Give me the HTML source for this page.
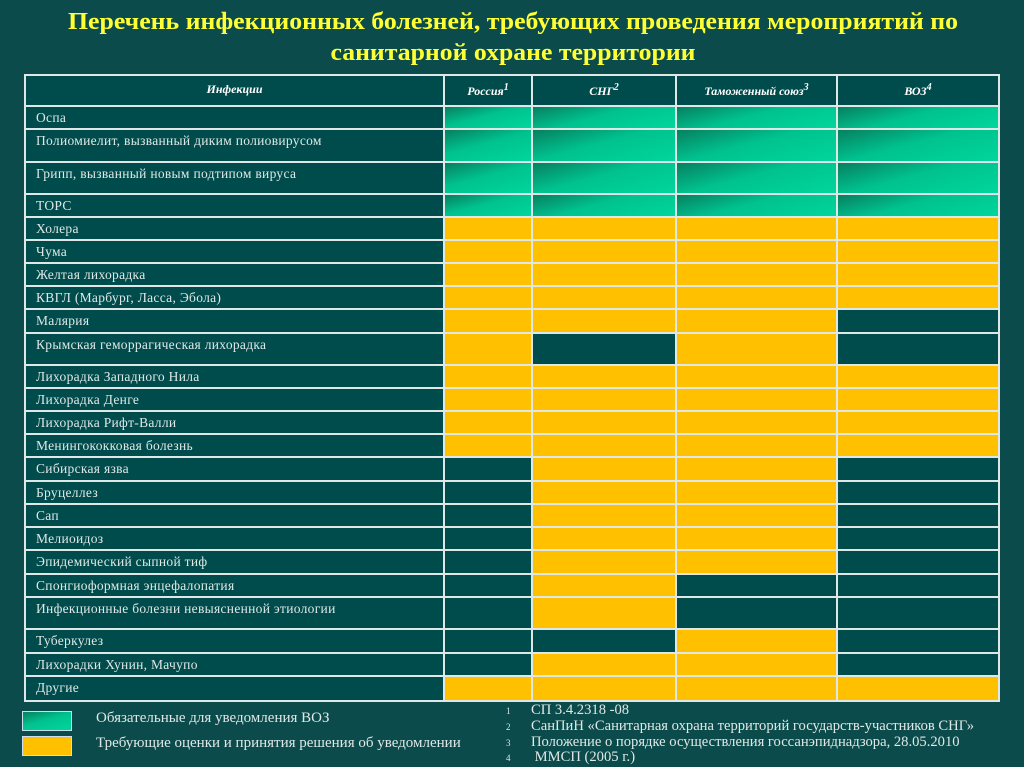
<!DOCTYPE html>
<html><head><meta charset="utf-8">
<style>
body{margin:0;width:1024px;height:767px;background:#0b4b4b;overflow:hidden;position:relative;font-family:"Liberation Serif","DejaVu Serif",serif}
.cell{position:absolute;box-sizing:border-box}
.lbl{color:#dfe8e6;font-size:13.5px;padding:3px 0 0 10px;letter-spacing:0.3px;white-space:nowrap}
.hd{color:#fff;font-style:italic;font-weight:bold;font-size:12px;text-align:center;padding-top:6px}
.g{background:linear-gradient(165deg,#07805f 0%,#00c28f 45%,#00d69c 100%)}
.y{background:#ffc000}
.d{background:#004b4c}
.leg{position:absolute;color:#dfe8e6;font-size:15px;white-space:nowrap}
.fn{position:absolute;color:#dfe8e6;font-size:14.6px;white-space:nowrap}
.fn span{display:inline-block;width:25px;font-size:9px}
</style></head><body>
<svg width="1024" height="75" style="position:absolute;left:0;top:0">
<text x="513" y="29" text-anchor="middle" textLength="890" lengthAdjust="spacingAndGlyphs" fill="#ffff33" font-family="Liberation Serif" font-weight="bold" font-size="24">Перечень инфекционных болезней, требующих проведения мероприятий по</text>
<text x="513" y="60" text-anchor="middle" textLength="365" lengthAdjust="spacingAndGlyphs" fill="#ffff33" font-family="Liberation Serif" font-weight="bold" font-size="24">санитарной охране территории</text>
</svg>
<div id="tbl" style="position:absolute;left:24px;top:74px;width:976px;height:628px;background:#dfe8e6"></div>

<div class="g" style="position:absolute;left:22px;top:711px;width:48px;height:18px;border:1px solid #cde"></div>
<div class="leg" style="left:96px;top:710px">Обязательные для уведомления ВОЗ</div>
<div class="y" style="position:absolute;left:22px;top:736px;width:48px;height:18px;border:1px solid #cde"></div>
<div class="leg" style="left:96px;top:735px">Требующие оценки и принятия решения об уведомлении</div>

<div class="fn" style="left:506px;top:702px"><span>1</span>СП 3.4.2318 -08</div>
<div class="fn" style="left:506px;top:718px"><span>2</span>СанПиН «Санитарная охрана территорий государств-участников СНГ»</div>
<div class="fn" style="left:506px;top:734px"><span>3</span>Положение о порядке осуществления госсанэпиднадзора, 28.05.2010</div>
<div class="fn" style="left:506px;top:749px"><span>4</span> ММСП (2005 г.)</div>

<script>
const headers = ["Инфекции","Россия<sup>1</sup>","СНГ<sup>2</sup>","Таможенный союз<sup>3</sup>","ВОЗ<sup>4</sup>"];
const infections = ["Оспа","Полиомиелит, вызванный диким  полиовирусом","Грипп, вызванный новым подтипом вируса","ТОРС","Холера","Чума","Желтая лихорадка","КВГЛ (Марбург, Ласса, Эбола)","Малярия","Крымская геморрагическая лихорадка","Лихорадка Западного Нила","Лихорадка Денге","Лихорадка Рифт-Валли","Менингококковая болезнь","Сибирская язва","Бруцеллез","Сап","Мелиоидоз","Эпидемический сыпной тиф","Спонгиоформная энцефалопатия","Инфекционные болезни невыясненной этиологии","Туберкулез","Лихорадки Хунин, Мачупо","Другие"];
const status = ["gggg","gggg","gggg","gggg","yyyy","yyyy","yyyy","yyyy","yyyd","ydyd","yyyy","yyyy","yyyy","yyyy","dyyd","dyyd","dyyd","dyyd","dyyd","dydd","dydd","ddyd","dyyd","yyyy"];
const colEdges = [26,445,533,677,838,1000];
const rowEdges = [76,107,130,163,195,218,241,264,287,310,334,366,389,412,435,458,482,505,528,551,575,598,630,654,677,702];
const tbl = document.getElementById('tbl');
function mk(cls,r,c,html){
  const el=document.createElement('div');
  el.className='cell '+cls;
  el.style.left=(colEdges[c]-26+2)+'px';
  el.style.top=(rowEdges[r]-76+2)+'px';
  el.style.width=(colEdges[c+1]-colEdges[c]-2)+'px';
  el.style.height=(rowEdges[r+1]-rowEdges[r]-2)+'px';
  if(html) el.innerHTML=html;
  tbl.appendChild(el);
  return el;
}
headers.forEach((h,c)=>{
  const el=mk('d hd',0,c,h);
  
  
});
infections.forEach((name,i)=>{
  const el=mk('d lbl',i+1,0,name);
  
  
  for(let c=0;c<4;c++){
    const s=status[i][c];
    const cell=mk(s,i+1,c+1,'');
    
    
  }
});
</script>
</body></html>
